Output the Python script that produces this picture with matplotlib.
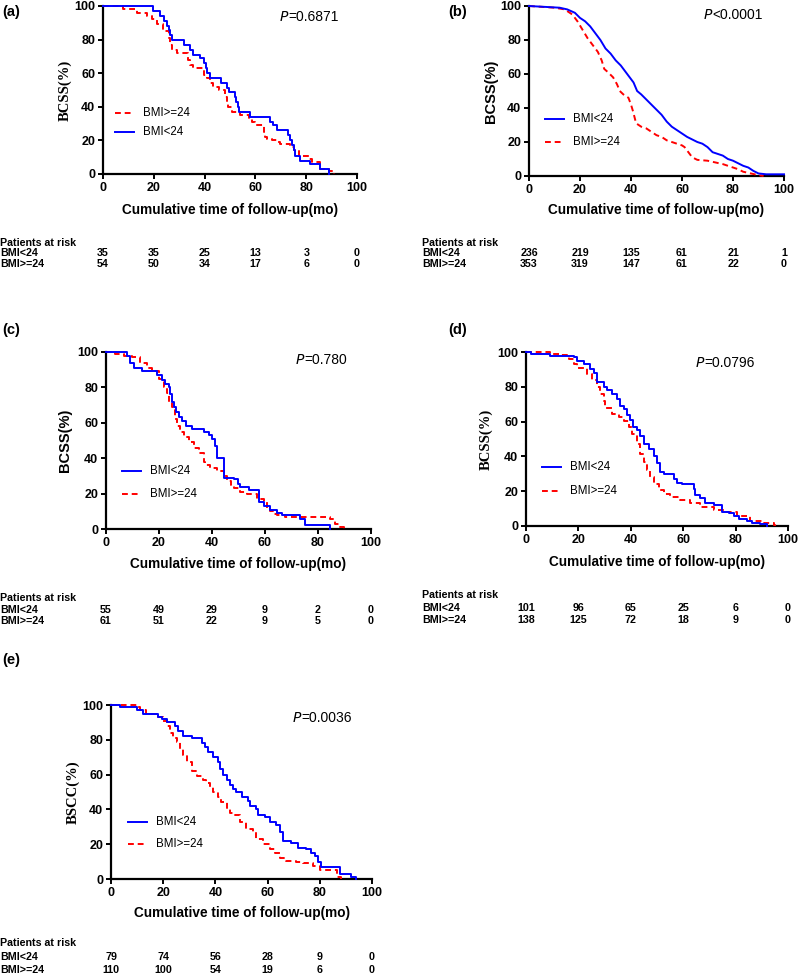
import matplotlib
matplotlib.use("Agg")
import matplotlib.pyplot as plt
from matplotlib.transforms import blended_transform_factory

# ---------------- DATA ----------------
group_names = ["BMI<24", "BMI>=24"]
risk_times = [0, 20, 40, 60, 80, 100]
x_ticks = [0, 20, 40, 60, 80, 100]
y_ticks = [0, 20, 40, 60, 80, 100]

# panel (a)
a_low_t = [0, 19.8, 22.5, 24.2, 25.1, 25.8, 26.4, 27.1, 31.7, 34.3, 35.6, 38.2, 39.8, 40.6, 41.1, 42.2, 46.5, 48.8,
           49.5, 52, 52.5, 53, 53.4, 58, 65.8, 67.1, 68.5, 73, 73.7, 74.4, 75, 75.7, 77.7, 81.6, 85.5, 88.8]
a_low_s = [100, 97, 94, 91, 88, 86, 83, 80, 77, 74, 71, 69, 66, 63, 60, 57, 54, 51,
           49, 46, 43, 40, 37, 34, 31, 29, 26, 23, 20, 17, 14, 11, 8, 6, 3, 0]
a_high_t = [0, 8, 13.3, 17.2, 19.2, 21.2, 23.8, 25.8, 26.5, 27.1, 29, 33.6, 34.2, 35.6, 39.6, 41, 42.2, 43.5, 45.5, 48,
            48.7, 49.4, 50.7, 54, 57.3, 58.6, 59.9, 63.2, 63.9, 64.6, 66.5, 69, 69.7, 73.7, 75, 77, 81, 82.3, 85.5, 88.8,
            90.8]
a_high_s = [100, 98, 96, 94, 92, 89, 85, 81, 77, 74, 72, 68, 65, 63, 59, 57, 54, 52, 50, 46,
            43, 40, 37, 35, 33, 31, 29, 25, 22, 21, 20, 19, 18, 16, 14, 11, 9, 7, 3, 2, 0]
a_risk_low = [35, 35, 25, 13, 3, 0]
a_risk_high = [54, 50, 34, 17, 6, 0]
a_p = "=0.6871"

# panel (b)
b_low_t = [0, 12, 15, 18, 20, 22, 24, 26, 28, 30, 32, 34, 36, 38, 40, 41, 42.4, 44, 46, 48, 50, 52, 54, 56, 58, 60,
           62, 64, 66, 68, 70, 72, 74, 76, 78, 80, 82, 84, 86, 88, 90, 93, 100]
b_low_s = [100, 99, 98, 96, 93, 91, 88, 84, 80, 75, 72, 68, 65, 61, 57, 55, 50, 48, 45, 42, 39, 36, 32, 29, 27, 25,
           23, 21.5, 20, 19, 17, 14, 13, 12, 10, 9, 7.5, 6, 5, 3, 1.5, 1, 1]
b_high_t = [0, 10, 14, 17, 19, 21, 23, 25, 27, 28.5, 29.5, 31, 33, 34.5, 35.6, 37, 39, 40, 40.8, 42, 44, 46, 48, 50,
            52, 54, 56, 58, 60, 61, 62, 63, 64, 66, 70, 73, 76, 78, 80, 82, 84, 87, 90, 92]
b_high_s = [100, 99, 98, 95, 91, 86, 81, 77, 73, 68, 63, 61, 58, 54, 50, 48, 46, 42, 38, 31, 29, 28, 26, 24,
            23, 21, 20, 19, 18, 17, 15, 13, 11, 9.5, 9, 8, 7, 6, 5, 4, 2.5, 1.5, 0.5, 0]
b_risk_low = [236, 219, 135, 61, 21, 1]
b_risk_high = [353, 319, 147, 61, 22, 0]
b_p = "<0.0001"

# panel (c)
c_low_t = [0, 7.9, 9.2, 10.4, 13.6, 19.2, 21, 22.3, 23.6, 24.2, 25, 25.7, 26.3, 27.4, 28.7, 30, 32.5, 36.9, 38.7, 40,
           41.3, 41.9, 44.4, 48.2, 49.7, 50.4, 53.8, 57.6, 59.6, 61.9, 64.5, 66.3, 73.3, 75.2, 84.7]
c_low_s = [100, 98, 94, 91, 89, 87, 84, 82, 80, 76, 72, 69, 66, 63, 61, 58, 56.5, 55, 53, 51,
           47, 40, 29, 28, 25.5, 24, 22, 15, 13, 11, 9, 7.7, 5.5, 2, 0]
c_high_t = [0, 3.5, 6.7, 9.8, 13, 15.5, 17.4, 19.9, 21.8, 23, 23.6, 24.9, 26.2, 26.8, 28, 29.3, 31.2, 33.1, 35, 36.9,
            37.5, 39.4, 41.9, 44.4, 45.7, 47, 48.2, 50.7, 53.2, 57, 59.5, 60.8, 62, 63.3, 64.5, 67.7, 73.3, 84.7, 86.5,
            88.4, 89.7]
c_high_s = [100, 99, 98, 97, 94, 91, 89, 85, 80, 77, 72, 69, 62, 58, 55, 52, 49, 46, 43, 38,
            36, 34.5, 33, 30, 27, 25, 23, 21, 19.5, 17, 15, 12, 10, 8.5, 8, 7, 6.5, 5.7, 3, 1, 0]
c_risk_low = [55, 49, 29, 9, 2, 0]
c_risk_high = [61, 51, 22, 9, 5, 0]
c_p = "=0.780"

# panel (d)
d_low_t = [0, 2, 9.3, 18.2, 19.5, 22, 24.6, 25.8, 27.1, 29.6, 30.9, 32.8, 34.7, 36, 37.3, 38.5, 39.8, 41, 42.4, 43.6,
           45, 46.8, 48.7, 50, 51.3, 52.5, 56.4, 57.6, 59.5, 64, 64.6, 66.5, 68.4, 71.6, 74.8, 77.4, 79.3, 81.2, 84.4,
           86.3, 89.4, 92]
d_low_s = [100, 99, 97.5, 97, 95, 93, 90, 88, 83, 80, 78, 76, 73, 69, 67, 64, 61, 57, 55, 52,
           47, 44, 40, 36, 31, 30, 27, 25, 24, 21, 18, 16, 13, 12, 8, 7.5, 6, 4, 3, 1.5, 1, 0]
d_high_t = [0, 9.3, 13, 16.3, 18.2, 19.5, 23.3, 25.2, 27.1, 28.4, 29.6, 30.3, 32.8, 35.4, 37.3, 39.2, 40.5, 42.4, 43.6,
            45, 46.2, 47.5, 48.7, 50.6, 52.5, 55, 58.9, 62.7, 66.5, 71.6, 75.4, 80.5, 85.6, 90.7, 94.5, 95.2]
d_high_s = [100, 99, 98, 96, 93, 91, 87.5, 84, 80, 76, 72, 68, 64.5, 62.5, 60.5, 57, 53, 47, 41.5,
            37, 32, 28, 24, 20.5, 18.5, 16.5, 15, 13, 11, 9, 8, 6, 3, 1.7, 0.5, 0]
d_risk_low = [101, 96, 65, 25, 6, 0]
d_risk_high = [138, 125, 72, 18, 9, 0]
d_p = "=0.0796"

# panel (e)
e_low_t = [0, 3.4, 9.8, 12.4, 18.1, 19.4, 21.3, 24.5, 25.8, 27.7, 30.9, 34.7, 36, 37.2, 39.2, 41, 41.7, 43, 44.3, 45.5,
           46.8, 48, 50, 52.6, 53.2, 55.7, 56.4, 58.9, 60.8, 63.4, 64.7, 65.9, 69.1, 71.7, 74.9, 76.8, 78, 79.3, 80.5,
           87.6, 92, 94]
e_low_s = [100, 99, 97, 95, 93, 92, 90, 88, 85, 82, 81, 78, 76, 73, 70, 67, 63, 60, 57, 54,
           52, 50, 47, 45, 42, 40, 37, 35.5, 33, 31, 27, 22, 20.5, 18, 17, 15, 13, 10, 7, 3, 1, 0]
e_high_t = [0, 9.8, 11, 13.6, 17.5, 20, 21.3, 22.6, 23.9, 25.1, 26.4, 27.7, 29, 30.9, 32.8, 35.3, 36.5, 37.8, 39.2, 41,
            42.3, 44.3, 45.5, 47.4, 49.4, 51.9, 54.5, 55.7, 58.3, 60.8, 62.8, 64.7, 67.2, 71, 73.6, 77.4, 80, 86.4, 88]
e_high_s = [100, 99, 97, 95, 93, 91, 88, 84, 81, 79, 75, 71, 67, 62, 59, 57, 55, 53, 50, 47,
            44, 41, 38, 36.5, 33, 29, 27, 23, 20, 17.5, 15, 12, 10.5, 10, 9, 7.5, 5, 1, 0]
e_risk_low = [79, 74, 56, 28, 9, 0]
e_risk_high = [110, 100, 54, 19, 6, 0]
e_p = "=0.0036"

# ---------------- STYLE / LAYOUT ----------------
W, H = 800, 977
SANS = ["Liberation Sans", "DejaVu Sans"]
SERIF = ["Liberation Serif", "DejaVu Serif"]
BLUE = "#0000FF"
RED = "#FF0000"
RISK_FS = 7.7

plt.rcParams["font.family"] = SANS
fig = plt.figure(figsize=(W / 100, H / 100), dpi=100)


def rect(l, t, r, b):
    return [l / W, 1 - b / H, (r - l) / W, (b - t) / H]


panels = [
    dict(letter="(a)", box=(103, 6, 357, 174), lt=(2, 12), low=(a_low_t, a_low_s), high=(a_high_t, a_high_s),
         risk=(a_risk_low, a_risk_high), p=a_p, ppos=(279, 17), ylab="BCSS(%)", serif=True, ylx=65, xly=210,
         leg_first="high", leg=(115, 113, 19), risk_y=(243, 253.5, 264), risk_x0=0, linear=False),
    dict(letter="(b)", box=(529, 6, 784, 176), lt=(448, 12), low=(b_low_t, b_low_s), high=(b_high_t, b_high_s),
         risk=(b_risk_low, b_risk_high), p=b_p, ppos=(703, 15), ylab="BCSS(%)", serif=False, ylx=491, xly=210,
         leg_first="low", leg=(545, 119, 23), risk_y=(243, 253.5, 264), risk_x0=422, linear=True),
    dict(letter="(c)", box=(106, 352, 371, 529), lt=(2, 330), low=(c_low_t, c_low_s), high=(c_high_t, c_high_s),
         risk=(c_risk_low, c_risk_high), p=c_p, ppos=(295, 360), ylab="BCSS(%)", serif=False, ylx=65, xly=564,
         leg_first="low", leg=(122, 471, 22.6), risk_y=(598, 610, 621), risk_x0=0, linear=False),
    dict(letter="(d)", box=(526, 352, 788, 526), lt=(448, 330), low=(d_low_t, d_low_s), high=(d_high_t, d_high_s),
         risk=(d_risk_low, d_risk_high), p=d_p, ppos=(695, 363), ylab="BCSS(%)", serif=True, ylx=486, xly=562,
         leg_first="low", leg=(542, 467, 24), risk_y=(595, 608, 620), risk_x0=422, linear=False),
    dict(letter="(e)", box=(111, 705, 372, 879), lt=(2, 660), low=(e_low_t, e_low_s), high=(e_high_t, e_high_s),
         risk=(e_risk_low, e_risk_high), p=e_p, ppos=(292, 718), ylab="BSCC(%)", serif=True, ylx=73, xly=913,
         leg_first="low", leg=(128, 822, 21.6), risk_y=(943, 957, 970), risk_x0=0, linear=False),
]

for P in panels:
    l, t, r, b = P["box"]
    ax = fig.add_axes(rect(l, t, r, b))
    axw, axh = r - l, b - t
    ax.set_xlim(0, 100)
    ax.set_ylim(0, 100)
    for sp in ["top", "right"]:
        ax.spines[sp].set_visible(False)
    for sp in ["left", "bottom"]:
        ax.spines[sp].set_linewidth(1.6)
    ax.set_xticks(x_ticks)
    ax.set_yticks(y_ticks)
    ax.tick_params(direction="out", length=3.5, width=1.4, pad=2, labelsize=9)
    for lab in ax.get_xticklabels() + ax.get_yticklabels():
        lab.set_fontweight("bold")

    ds = "default" if P["linear"] else "steps-post"
    lt_, ls_ = P["low"]
    ht_, hs_ = P["high"]
    ax.plot(ht_, hs_, color=RED, lw=1.4, ls=(0, (3, 2)), drawstyle=ds, clip_on=False, zorder=3)
    ax.plot(lt_, ls_, color=BLUE, lw=1.4, drawstyle=ds, clip_on=False, zorder=4)

    # labels
    ax.set_xlabel("Cumulative time of follow-up(mo)", fontsize=9.8, fontweight="bold")
    ax.xaxis.set_label_coords(0.5, -(P["xly"] - b) / axh)
    ax.xaxis.label.set_va("center")
    ax.set_ylabel(P["ylab"], fontsize=10.5, fontweight="bold", family=SERIF if P["serif"] else SANS)
    ax.yaxis.set_label_coords(-(l - P["ylx"]) / axw, 0.5)
    ax.yaxis.label.set_va("center")

    # p value
    px, py = P["ppos"]
    ax.text((px - l) / axw, (b - py) / axh, r"$\it{P}$", transform=ax.transAxes, fontsize=10,
            ha="left", va="center", family=SANS)
    ax.text((px - l) / axw + 9.5 / axw, (b - py) / axh, P["p"], transform=ax.transAxes, fontsize=10,
            ha="left", va="center")

    # legend (manual)
    lx, ly, dy = P["leg"]
    order = ["high", "low"] if P["leg_first"] == "high" else ["low", "high"]
    for i, key in enumerate(order):
        yy = (b - (ly + i * dy)) / axh
        x0 = (lx - l) / axw
        x1 = (lx + 19 - l) / axw
        if key == "low":
            ax.plot([x0, x1], [yy, yy], color=BLUE, lw=1.4, transform=ax.transAxes, clip_on=False)
            name = group_names[0]
        else:
            ax.plot([x0, x1], [yy, yy], color=RED, lw=1.4, ls=(0, (3, 2)), transform=ax.transAxes, clip_on=False)
            name = group_names[1]
        ax.text((lx + 28 - l) / axw, yy, name, transform=ax.transAxes, fontsize=8.3, ha="left", va="center")

    # panel letter
    fig.text(P["lt"][0] / W, 1 - P["lt"][1] / H, P["letter"], fontsize=10.5, fontweight="bold",
             ha="left", va="center")

    # risk table
    y0, y1, y2 = P["risk_y"]
    fig.text(P["risk_x0"] / W, 1 - y0 / H, "Patients at risk", fontsize=RISK_FS, fontweight="bold",
             ha="left", va="center")
    fig.text(P["risk_x0"] / W, 1 - y1 / H, group_names[0], fontsize=RISK_FS, fontweight="bold",
             ha="left", va="center")
    fig.text(P["risk_x0"] / W, 1 - y2 / H, group_names[1], fontsize=RISK_FS, fontweight="bold",
             ha="left", va="center")
    tr = blended_transform_factory(ax.transData, fig.transFigure)
    for xt, v1, v2 in zip(risk_times, P["risk"][0], P["risk"][1]):
        ax.text(xt, 1 - y1 / H, str(v1), transform=tr, fontsize=RISK_FS, fontweight="bold", ha="center",
                va="center", clip_on=False)
        ax.text(xt, 1 - y2 / H, str(v2), transform=tr, fontsize=RISK_FS, fontweight="bold", ha="center",
                va="center", clip_on=False)

fig.savefig("out.png", dpi=100)
